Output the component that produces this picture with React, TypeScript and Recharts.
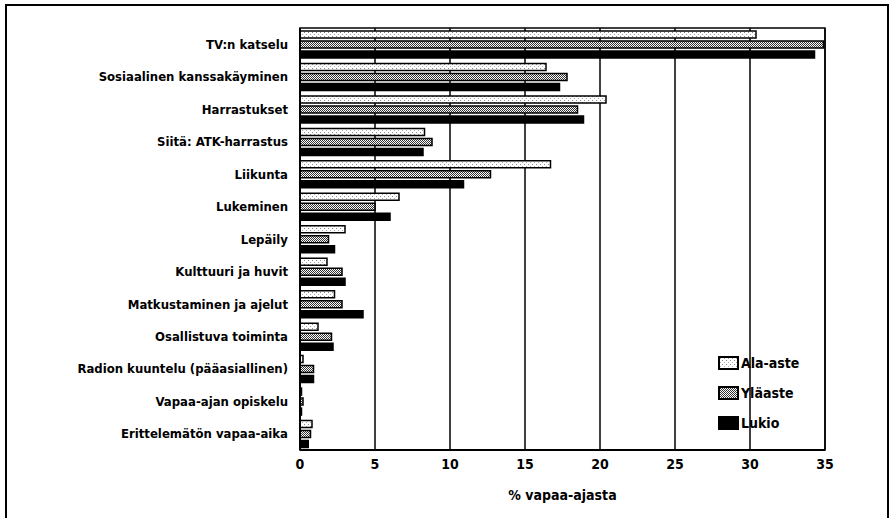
import React from "react";
import {
  BarChart,
  Bar,
  XAxis,
  YAxis,
  CartesianGrid,
  ReferenceArea,
} from "recharts";

const categories = [
  "TV:n katselu",
  "Sosiaalinen kanssakäyminen",
  "Harrastukset",
  "Siitä: ATK-harrastus",
  "Liikunta",
  "Lukeminen",
  "Lepäily",
  "Kulttuuri ja huvit",
  "Matkustaminen ja ajelut",
  "Osallistuva toiminta",
  "Radion kuuntelu (pääasiallinen)",
  "Vapaa-ajan opiskelu",
  "Erittelemätön vapaa-aika",
];

const alaAste = [30.4, 16.4, 20.4, 8.3, 16.7, 6.6, 3.0, 1.8, 2.3, 1.2, 0.2, 0.1, 0.8];
const ylaaste = [34.9, 17.8, 18.5, 8.8, 12.7, 5.0, 1.9, 2.8, 2.8, 2.1, 0.9, 0.2, 0.7];
const lukio = [34.3, 17.3, 18.9, 8.2, 10.9, 6.0, 2.3, 3.0, 4.2, 2.2, 0.9, 0.1, 0.55];

const xTicks = [0, 5, 10, 15, 20, 25, 30, 35];

const data = categories.map((name, i) => ({
  name,
  ala: alaAste[i],
  yla: ylaaste[i],
  lukio: lukio[i],
}));

const FONT = "'DejaVu Sans Condensed', 'DejaVu Sans', sans-serif";

const Patterns = ({ suffix }: { suffix: string }) => (
  <defs>
    <pattern id={`ala-${suffix}`} width="4" height="4" patternUnits="userSpaceOnUse">
      <rect width="4" height="4" fill="#fff" />
      <rect x="0" y="0" width="1" height="1" fill="#888" />
      <rect x="2" y="2" width="1" height="1" fill="#aaa" />
    </pattern>
    <pattern id={`yla-${suffix}`} width="2" height="2" patternUnits="userSpaceOnUse">
      <rect width="2" height="2" fill="#fff" />
      <rect x="0" y="0" width="1" height="1" fill="#333" />
      <rect x="1" y="1" width="1" height="1" fill="#333" />
    </pattern>
  </defs>
);

const legendItems = [
  { label: "Ala-aste", fill: "url(#ala-lg)" },
  { label: "Yläaste", fill: "url(#yla-lg)" },
  { label: "Lukio", fill: "#000" },
];

// legend sits inside the plot, bottom right
const ChartLegend = () => (
  <div
    style={{
      position: "absolute",
      left: 718,
      top: 348,
      fontFamily: FONT,
      fontSize: 14,
      fontWeight: "bold",
      color: "#000",
    }}
  >
    <svg width="0" height="0" style={{ position: "absolute" }}>
      <Patterns suffix="lg" />
    </svg>
    {legendItems.map((it) => (
      <div key={it.label} style={{ display: "flex", alignItems: "center", height: 30 }}>
        <svg width={21} height={14} style={{ marginRight: 2 }}>
          <rect x={1} y={1} width={19} height={12} fill={it.fill} stroke="#000" strokeWidth={2} />
        </svg>
        <span>{it.label}</span>
      </div>
    ))}
  </div>
);

export default function App() {
  return (
    <div style={{ position: "absolute", left: 0, top: 0, width: 891, height: 518, background: "#fff" }}>
      {/* scanned page frame */}
      <div
        style={{
          position: "absolute",
          left: 5,
          top: 4,
          width: 884,
          height: 530,
          border: "2px solid #000",
          boxSizing: "border-box",
        }}
      />
      <BarChart
        width={891}
        height={518}
        data={data}
        layout="vertical"
        margin={{ top: 28, right: 66, bottom: 8, left: 0 }}
        barSize={7}
        barGap={3}
        style={{ fontFamily: FONT }}
      >
        <Patterns suffix="ch" />
        <CartesianGrid horizontal={false} stroke="#000" strokeWidth={1.5} />
        <ReferenceArea x1={0} x2={35} fill="none" stroke="#000" strokeWidth={1.5} />
        <XAxis
          type="number"
          domain={[0, 35]}
          ticks={xTicks}
          height={60}
          axisLine={{ stroke: "#000", strokeWidth: 2 }}
          tickLine={false}
          tickSize={0}
          tickMargin={9}
          tick={{ fill: "#000", fontSize: 14, fontWeight: "bold" }}
          label={{
            value: "% vapaa-ajasta",
            position: "insideBottom",
            offset: 10,
            fill: "#000",
            fontSize: 14,
            fontWeight: "bold",
          }}
        />
        <YAxis
          type="category"
          dataKey="name"
          width={300}
          axisLine={{ stroke: "#000", strokeWidth: 2 }}
          tickLine={false}
          tickSize={0}
          tickMargin={12}
          interval={0}
          tick={{ fill: "#000", fontSize: 13, fontWeight: "bold" }}
        />
        <Bar dataKey="ala" name="Ala-aste" fill="url(#ala-ch)" stroke="#000" strokeWidth={1.5} isAnimationActive={false} />
        <Bar dataKey="yla" name="Yläaste" fill="url(#yla-ch)" stroke="#000" strokeWidth={1.5} isAnimationActive={false} />
        <Bar dataKey="lukio" name="Lukio" fill="#000" stroke="#000" strokeWidth={1.5} isAnimationActive={false} />
      </BarChart>
      <ChartLegend />
    </div>
  );
}
